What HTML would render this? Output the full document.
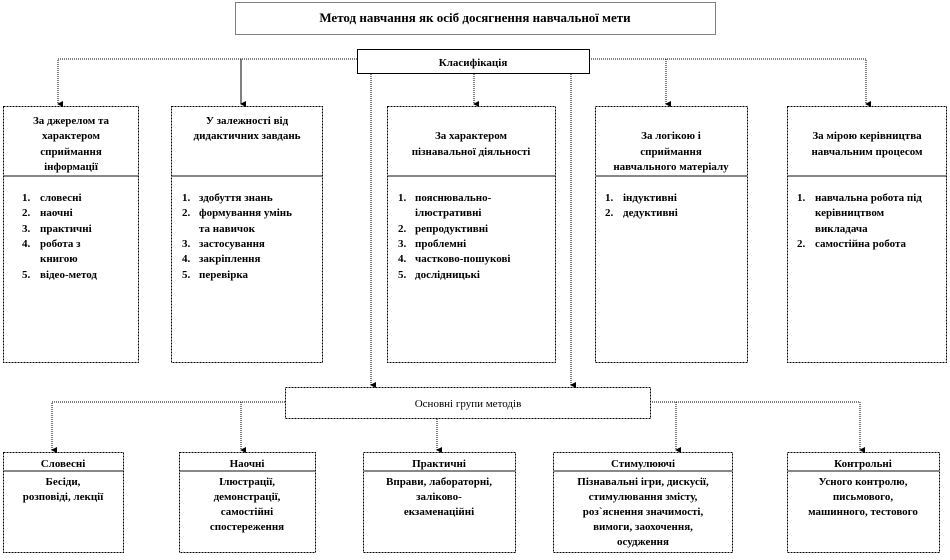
<!DOCTYPE html>
<html><head><meta charset="utf-8"><style>
body{margin:0;background:#fff;width:950px;height:555px;overflow:hidden}
svg text{font-family:"Liberation Serif","Noto Serif CJK SC",serif;font-weight:bold;font-size:11px;fill:#000}
</style></head><body>
<svg width="950" height="555" viewBox="0 0 950 555" xmlns="http://www.w3.org/2000/svg">
<defs><marker id="a" markerWidth="6" markerHeight="6" refX="3" refY="5" orient="auto" markerUnits="userSpaceOnUse"><path d="M0,0 L6,0 L3,6 z" fill="#000"/></marker></defs>
<g fill="none" stroke="#000" stroke-width="1">
<!-- title -->
<rect x="235.5" y="2.5" width="480" height="32" stroke-dasharray="1 1"/>
<rect x="357.5" y="49.5" width="232" height="24"/>
<!-- classification connectors -->
<g stroke-dasharray="1 1">
<path d="M357,59 H58 V104" marker-end="url(#a)"/>
<path d="M589,59 H866 V104" marker-end="url(#a)"/>
<path d="M666,59 V104" marker-end="url(#a)"/>
<path d="M474,74 V104" marker-end="url(#a)"/>
<path d="M371,74 V385" marker-end="url(#a)"/>
<path d="M571,74 V385" marker-end="url(#a)"/>
</g>
<path d="M241,59 V104" marker-end="url(#a)"/>
<!-- upper boxes -->
<g stroke-dasharray="2 1">
<rect x="3.5" y="106.5" width="135" height="256"/>
<rect x="171.5" y="106.5" width="151" height="256"/>
<rect x="387.5" y="106.5" width="168" height="256"/>
<rect x="595.5" y="106.5" width="152" height="256"/>
<rect x="787.5" y="106.5" width="159" height="256"/>
</g>
<g stroke="#888" stroke-width="2">
<path d="M4,176 H138 M172,176 H322 M388,176 H555 M596,176 H747 M788,176 H946"/>
</g>
<!-- main groups box -->
<rect x="285.5" y="387.5" width="365" height="31" stroke-dasharray="2 1"/>
<g stroke-dasharray="1 1">
<path d="M285,402 H52 V450" marker-end="url(#a)"/>
<path d="M241,402 V450" marker-end="url(#a)"/>
<path d="M650,402 H860 V450" marker-end="url(#a)"/>
<path d="M676,402 V450" marker-end="url(#a)"/>
<path d="M437,419 V450" marker-end="url(#a)"/>
</g>
<g stroke-dasharray="2 1">
<rect x="3.5" y="452.5" width="120" height="100"/>
<rect x="179.5" y="452.5" width="136" height="100"/>
<rect x="363.5" y="452.5" width="152" height="100"/>
<rect x="553.5" y="452.5" width="179" height="100"/>
<rect x="787.5" y="452.5" width="152" height="100"/>
</g>
<g stroke="#888" stroke-width="2">
<path d="M4,471 H123 M180,471 H315 M364,471 H515 M554,471 H732 M788,471 H939"/>
</g>
</g>

<g text-anchor="middle">
<text x="475" y="22" style="font-size:13px">Метод навчання як осіб досягнення навчальної мети</text>
<text x="473" y="66" style="font-size:11px">Класифікація</text>

<text x="71" y="124">За джерелом та</text>
<text x="71" y="139">характером</text>
<text x="71" y="155">сприймання</text>
<text x="71" y="170">інформації</text>

<text x="247" y="124">У залежності від</text>
<text x="247" y="139">дидактичних  завдань</text>

<text x="471" y="139">За характером</text>
<text x="471" y="155">пізнавальної  діяльності</text>

<text x="671" y="139">За логікою і</text>
<text x="671" y="155">сприймання</text>
<text x="671" y="170">навчального матеріалу</text>

<text x="867" y="139">За мірою керівництва</text>
<text x="867" y="155">навчальним процесом</text>

<text x="468" y="407" style="font-weight:normal">Основні групи методів</text>

<text x="63" y="467">Словесні</text>
<text x="63" y="485">Бесіди,</text>
<text x="63" y="500">розповіді,  лекції</text>

<text x="247" y="467">Наочні</text>
<text x="247" y="485">Ілюстрації,</text>
<text x="247" y="500">демонстрації,</text>
<text x="247" y="515">самостійні</text>
<text x="247" y="530">спостереження</text>

<text x="439" y="467">Практичні</text>
<text x="439" y="485">Вправи, лабораторні,</text>
<text x="439" y="500">заліково-</text>
<text x="439" y="515">екзаменаційні</text>

<text x="643" y="467">Стимулюючі</text>
<text x="643" y="485">Пізнавальні ігри, дискусії,</text>
<text x="643" y="500">стимулювання змісту,</text>
<text x="643" y="515">роз`яснення значимості,</text>
<text x="643" y="530">вимоги, заохочення,</text>
<text x="643" y="545">осудження</text>

<text x="863" y="467">Контрольні</text>
<text x="863" y="485">Усного контролю,</text>
<text x="863" y="500">письмового,</text>
<text x="863" y="515">машинного, тестового</text>
</g>

<g>
<text x="22" y="201">1.</text><text x="40" y="201">словесні</text>
<text x="22" y="216">2.</text><text x="40" y="216">наочні</text>
<text x="22" y="232">3.</text><text x="40" y="232">практичні</text>
<text x="22" y="247">4.</text><text x="40" y="247">робота з</text>
<text x="40" y="262">книгою</text>
<text x="22" y="278">5.</text><text x="40" y="278">відео-метод</text>

<text x="182" y="201">1.</text><text x="199" y="201">здобуття знань</text>
<text x="182" y="216">2.</text><text x="199" y="216">формування умінь</text>
<text x="199" y="232">та навичок</text>
<text x="182" y="247">3.</text><text x="199" y="247">застосування</text>
<text x="182" y="262">4.</text><text x="199" y="262">закріплення</text>
<text x="182" y="278">5.</text><text x="199" y="278">перевірка</text>

<text x="398" y="201">1.</text><text x="415" y="201">пояснювально-</text>
<text x="415" y="216">ілюстративні</text>
<text x="398" y="232">2.</text><text x="415" y="232">репродуктивні</text>
<text x="398" y="247">3.</text><text x="415" y="247">проблемні</text>
<text x="398" y="262">4.</text><text x="415" y="262">частково-пошукові</text>
<text x="398" y="278">5.</text><text x="415" y="278">дослідницькі</text>

<text x="605" y="201">1.</text><text x="623" y="201">індуктивні</text>
<text x="605" y="216">2.</text><text x="623" y="216">дедуктивні</text>

<text x="797" y="201">1.</text><text x="815" y="201">навчальна робота під</text>
<text x="815" y="216">керівництвом</text>
<text x="815" y="232">викладача</text>
<text x="797" y="247">2.</text><text x="815" y="247">самостійна робота</text>
</g>
</svg>
</body></html>
